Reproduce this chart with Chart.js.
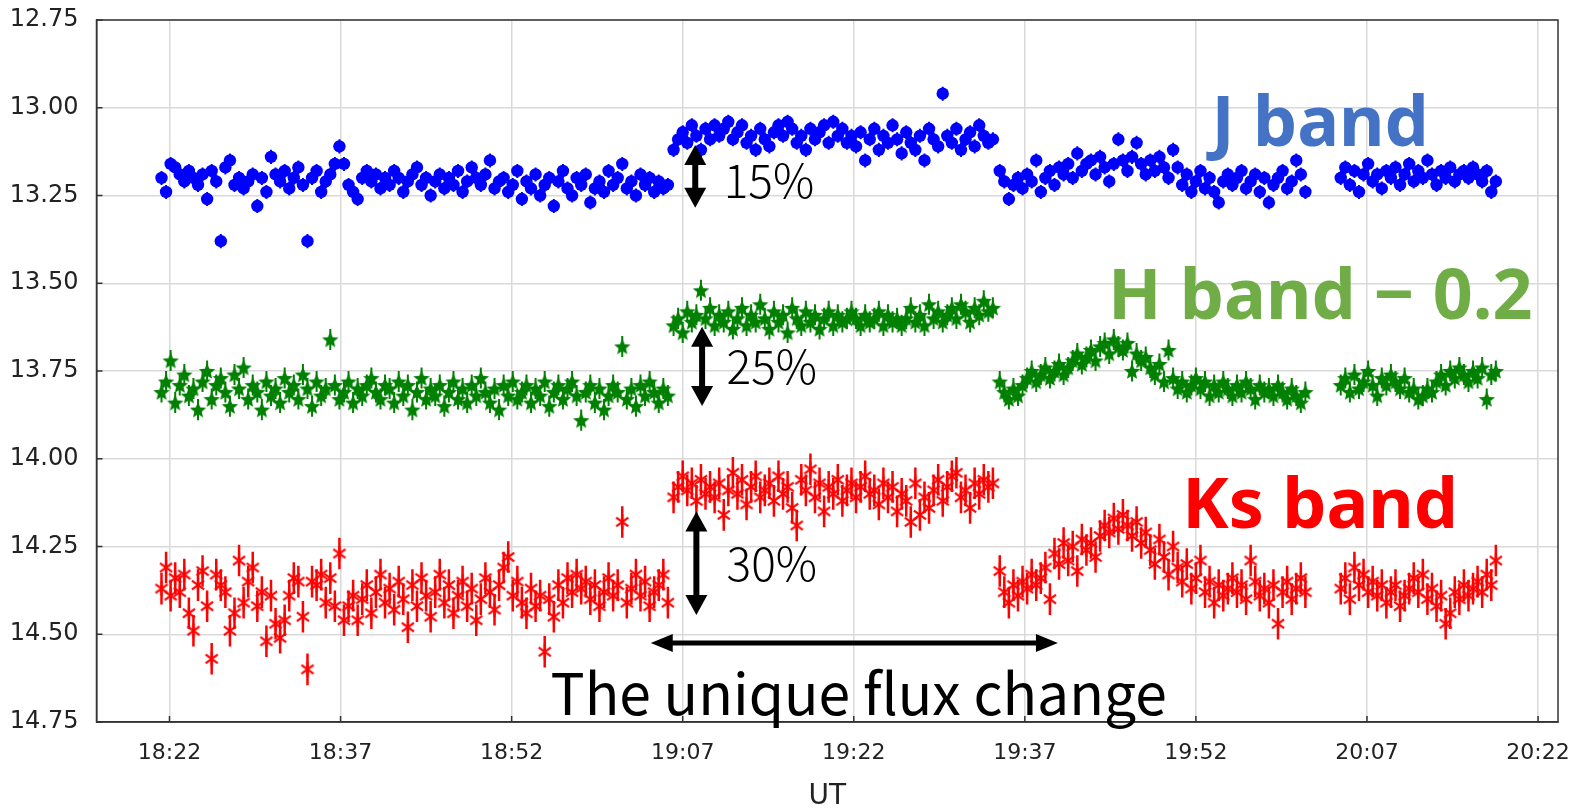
<!DOCTYPE html>
<html><head><meta charset="utf-8">
<script src="https://cdn.jsdelivr.net/npm/chart.js@4.4.1/dist/chart.umd.min.js"></script>
<style>html,body{margin:0;padding:0;background:#fff;}#wrap{width:1582px;height:808px;}</style>
</head><body><div id="wrap"><canvas id="c" width="1582" height="808"></canvas></div>
<script>
// UT in minutes after 18:00, four observing blocks
const ut1 = [21.3,21.7,22.1,22.5,22.9,23.3,23.7,24.1,24.5,24.9,25.3,25.7,26.1,26.5,26.9,27.3,27.7,28.1,28.5,28.9,
29.3,29.7,30.1,30.5,30.9,31.3,31.7,32.1,32.5,32.9,33.3,33.7,34.1,34.5,34.9,35.3,35.7,36.1,36.5,36.9,
37.3,37.7,38.1,38.5,38.9,39.3,39.7,40.1,40.5,40.9,41.3,41.7,42.1,42.5,42.9,43.3,43.7,44.1,44.5,44.9,
45.3,45.7,46.1,46.5,46.9,47.3,47.7,48.1,48.5,48.9,49.3,49.7,50.1,50.5,50.9,51.3,51.7,52.1,52.5,52.9,
53.3,53.7,54.1,54.5,54.9,55.3,55.7,56.1,56.5,56.9,57.3,57.7,58.1,58.5,58.9,59.3,59.7,60.1,60.5,60.9,
61.3,61.7,62.1,62.5,62.9,63.3,63.7,64.1,64.5,64.9,65.3,65.7];
const ut2 = [66.2,66.6,67.0,67.4,67.8,68.2,68.6,69.0,69.4,69.8,70.2,70.6,71.0,71.4,71.8,72.2,72.6,73.0,73.4,73.8,
74.2,74.6,75.0,75.4,75.8,76.2,76.6,77.0,77.4,77.8,78.2,78.6,79.0,79.4,79.8,80.2,80.6,81.0,81.4,81.8,
82.2,82.6,83.0,83.4,83.8,84.2,84.6,85.0,85.4,85.8,86.2,86.6,87.0,87.4,87.8,88.2,88.6,89.0,89.4,89.8,
90.2,90.6,91.0,91.4,91.8,92.2,92.6,93.0,93.4,93.8,94.2];
const ut3 = [94.8,95.2,95.6,96.0,96.4,96.8,97.2,97.6,98.0,98.4,98.8,99.2,99.6,100.0,100.4,100.8,101.2,101.6,102.0,102.4,
102.8,103.2,103.6,104.0,104.4,104.8,105.2,105.6,106.0,106.4,106.8,107.2,107.6,108.0,108.4,108.8,109.2,109.6,110.0,110.4,
110.8,111.2,111.6,112.0,112.4,112.8,113.2,113.6,114.0,114.4,114.8,115.2,115.6,116.0,116.4,116.8,117.2,117.6,118.0,118.4,
118.8,119.2,119.6,120.0,120.4,120.8,121.2,121.6];
const ut4 = [124.7,125.1,125.5,125.9,126.3,126.7,127.1,127.5,127.9,128.3,128.7,129.1,129.5,129.9,130.3,130.7,131.1,131.5,131.9,132.3,
132.7,133.1,133.5,133.9,134.3,134.7,135.1,135.5,135.9,136.3,136.7,137.1,137.5,137.9,138.3];

const jBand = [
13.20,13.24,13.16,13.17,13.19,13.21,13.18,13.20,13.22,13.19,13.26,13.18,13.21,13.38,13.17,13.15,13.22,13.20,13.23,13.21,
13.19,13.28,13.20,13.24,13.14,13.19,13.21,13.18,13.23,13.20,13.17,13.22,13.38,13.20,13.18,13.24,13.21,13.19,13.16,13.11,
13.16,13.22,13.24,13.26,13.20,13.18,13.21,13.19,13.23,13.20,13.22,13.18,13.20,13.24,13.21,13.19,13.17,13.22,13.20,13.25,
13.21,13.19,13.23,13.20,13.22,13.18,13.24,13.21,13.17,13.20,13.22,13.19,13.15,13.23,13.21,13.20,13.24,13.22,13.18,13.26,
13.21,13.23,13.19,13.25,13.22,13.20,13.28,13.21,13.18,13.23,13.25,13.20,13.22,13.19,13.27,13.23,13.21,13.24,13.18,13.22,
13.20,13.16,13.23,13.21,13.25,13.19,13.22,13.20,13.24,13.21,13.23,13.22,
13.12,13.09,13.07,13.10,13.05,13.08,13.12,13.06,13.09,13.05,13.08,13.06,13.04,13.09,13.07,13.05,13.10,13.08,13.12,13.06,
13.09,13.11,13.07,13.05,13.08,13.04,13.06,13.10,13.08,13.12,13.06,13.09,13.07,13.05,13.10,13.04,13.08,13.06,13.10,13.08,
13.11,13.07,13.15,13.09,13.06,13.12,13.08,13.10,13.05,13.09,13.13,13.07,13.10,13.12,13.08,13.15,13.06,13.09,13.11,12.96,
13.08,13.10,13.06,13.12,13.09,13.07,13.11,13.05,13.08,13.10,13.09,
13.18,13.21,13.26,13.22,13.20,13.23,13.19,13.21,13.15,13.24,13.20,13.18,13.22,13.17,13.19,13.16,13.20,13.13,13.18,13.16,
13.15,13.19,13.14,13.17,13.21,13.16,13.09,13.15,13.18,13.14,13.10,13.16,13.19,13.15,13.18,13.14,13.17,13.20,13.12,13.17,
13.22,13.19,13.24,13.21,13.18,13.23,13.20,13.24,13.27,13.21,13.19,13.22,13.20,13.18,13.23,13.21,13.19,13.24,13.20,13.27,
13.22,13.20,13.18,13.23,13.21,13.15,13.19,13.24,
13.20,13.17,13.22,13.18,13.24,13.19,13.16,13.21,13.19,13.23,13.18,13.20,13.17,13.22,13.19,13.16,13.21,13.18,13.20,13.15,
13.19,13.22,13.18,13.20,13.17,13.21,13.19,13.18,13.20,13.17,13.19,13.21,13.18,13.24,13.21];

const hBandMinus02 = [
13.81,13.78,13.72,13.84,13.79,13.76,13.82,13.80,13.86,13.78,13.75,13.83,13.79,13.77,13.81,13.85,13.76,13.80,13.74,13.83,
13.79,13.81,13.86,13.78,13.82,13.80,13.84,13.77,13.81,13.79,13.83,13.76,13.80,13.85,13.78,13.82,13.80,13.66,13.79,13.83,
13.81,13.78,13.84,13.80,13.82,13.79,13.77,13.81,13.83,13.79,13.80,13.84,13.78,13.82,13.79,13.86,13.81,13.77,13.83,13.80,
13.82,13.79,13.85,13.81,13.78,13.83,13.80,13.84,13.79,13.82,13.77,13.81,13.84,13.80,13.86,13.79,13.82,13.78,13.83,13.81,
13.79,13.84,13.80,13.82,13.78,13.85,13.81,13.79,13.83,13.80,13.78,13.82,13.89,13.81,13.79,13.84,13.80,13.86,13.82,13.79,
13.81,13.68,13.83,13.80,13.85,13.79,13.82,13.78,13.81,13.84,13.80,13.82,
13.62,13.60,13.64,13.58,13.61,13.59,13.52,13.60,13.57,13.62,13.59,13.61,13.58,13.63,13.60,13.57,13.62,13.59,13.61,13.56,
13.60,13.63,13.58,13.61,13.59,13.64,13.57,13.60,13.62,13.58,13.61,13.59,13.63,13.60,13.58,13.62,13.59,13.61,13.60,13.58,
13.60,13.62,13.59,13.61,13.60,13.58,13.62,13.59,13.61,13.60,13.62,13.60,13.57,13.61,13.59,13.62,13.56,13.60,13.58,13.61,
13.59,13.57,13.60,13.56,13.58,13.61,13.57,13.59,13.55,13.58,13.57,
13.78,13.81,13.83,13.80,13.82,13.79,13.77,13.75,13.78,13.76,13.74,13.77,13.75,13.73,13.76,13.74,13.72,13.70,13.73,13.71,
13.69,13.72,13.68,13.67,13.70,13.66,13.68,13.69,13.67,13.75,13.70,13.72,13.71,13.74,13.76,13.73,13.78,13.69,13.77,13.80,
13.78,13.81,13.79,13.77,13.80,13.78,13.82,13.79,13.81,13.78,13.80,13.82,13.79,13.81,13.78,13.80,13.83,13.79,13.81,13.80,
13.82,13.79,13.81,13.83,13.80,13.82,13.84,13.81,
13.79,13.77,13.81,13.76,13.80,13.78,13.75,13.79,13.82,13.77,13.79,13.76,13.78,13.80,13.77,13.81,13.80,13.83,13.82,13.80,
13.81,13.78,13.76,13.79,13.75,13.77,13.74,13.76,13.78,13.75,13.77,13.74,13.83,13.76,13.75];

const ksBand = [
14.37,14.31,14.39,14.34,14.38,14.33,14.44,14.49,14.36,14.32,14.42,14.57,14.33,14.36,14.38,14.49,14.44,14.29,14.41,14.35,
14.31,14.42,14.38,14.52,14.39,14.47,14.51,14.46,14.39,14.34,14.35,14.45,14.60,14.35,14.36,14.33,14.41,14.34,14.42,14.27,
14.46,14.42,14.39,14.46,14.40,14.36,14.44,14.38,14.33,14.41,14.37,14.43,14.35,14.40,14.48,14.36,14.42,14.34,14.39,14.45,
14.38,14.33,14.41,14.36,14.44,14.39,14.35,14.42,14.37,14.46,14.40,14.34,14.38,14.43,14.36,14.31,14.28,14.39,14.35,14.41,
14.44,14.37,14.42,14.39,14.55,14.40,14.45,14.36,14.41,14.34,14.38,14.33,14.37,14.35,14.40,14.36,14.42,14.38,14.34,14.39,
14.36,14.18,14.41,14.37,14.33,14.39,14.35,14.42,14.38,14.36,14.33,14.41,
14.11,14.08,14.05,14.09,14.07,14.12,14.06,14.10,14.08,14.11,14.07,14.16,14.09,14.04,14.10,14.06,14.13,14.08,14.05,14.11,
14.09,14.07,14.12,14.05,14.10,14.08,14.14,14.19,14.06,14.09,14.03,14.11,14.07,14.15,14.08,14.10,14.06,14.12,14.09,14.07,
14.11,14.08,14.05,14.10,14.09,14.13,14.07,14.11,14.08,14.15,14.10,14.12,14.18,14.07,14.16,14.11,14.14,14.09,14.06,14.12,
14.08,14.05,14.04,14.11,14.09,14.14,14.07,14.10,14.06,14.08,14.07,
14.32,14.38,14.41,14.36,14.39,14.35,14.37,14.33,14.36,14.34,14.31,14.40,14.27,14.30,14.24,14.29,14.25,14.32,14.23,14.26,
14.24,14.28,14.22,14.19,14.21,14.17,14.20,14.16,14.19,14.22,14.18,14.24,14.21,14.26,14.30,14.23,14.28,14.33,14.25,14.31,
14.35,14.30,14.37,14.34,14.29,14.38,14.35,14.41,14.36,14.39,14.37,14.34,14.38,14.36,14.40,14.29,14.35,14.39,14.37,14.41,
14.36,14.47,14.38,14.35,14.40,14.37,14.34,14.38,
14.37,14.34,14.40,14.31,14.36,14.33,14.38,14.35,14.39,14.36,14.41,14.38,14.36,14.42,14.39,14.37,14.34,14.38,14.33,14.40,
14.37,14.42,14.39,14.47,14.44,14.38,14.40,14.36,14.39,14.37,14.35,14.38,14.33,14.36,14.29];

// typical photometric errors (mag)
const errJ = 0.02, errH = 0.03, errKs = 0.045;

const xTickValues = [22,37,52,67,82,97,112,127,142];
const xTickLabels = ['18:22','18:37','18:52','19:07','19:22','19:37','19:52','20:07','20:22'];
const yTickValues = [12.75,13.00,13.25,13.50,13.75,14.00,14.25,14.50,14.75];

const ut = ut1.concat(ut2, ut3, ut4);
const toPts = arr => arr.map((v,i)=>({x: ut[i], y: v}));

function makeStar(color){
  const c=document.createElement('canvas'); c.width=c.height=20;
  const g=c.getContext('2d'); g.fillStyle=color; g.beginPath();
  for(let k=0;k<10;k++){const r=k%2?3.9:8.6; const a=-Math.PI/2+k*Math.PI/5; g.lineTo(10+r*Math.cos(a),10.8+r*Math.sin(a));}
  g.closePath(); g.fill(); return c;
}
function makeAsterisk(color){
  const c=document.createElement('canvas'); c.width=c.height=18;
  const g=c.getContext('2d'); g.strokeStyle=color; g.lineWidth=2.2; g.lineCap='butt'; g.beginPath();
  g.moveTo(9,1.5); g.lineTo(9,16.5);
  const a=Math.PI/5, r=7.5;
  g.moveTo(9-r*Math.cos(a),9-r*Math.sin(a)); g.lineTo(9+r*Math.cos(a),9+r*Math.sin(a));
  g.moveTo(9-r*Math.cos(a),9+r*Math.sin(a)); g.lineTo(9+r*Math.cos(a),9-r*Math.sin(a));
  g.stroke(); return c;
}

const errorBars = {
  id:'errorBars',
  beforeDatasetsDraw(chart){
    const {ctx, scales:{x,y}} = chart;
    chart.data.datasets.forEach(ds=>{
      ctx.save(); ctx.strokeStyle=ds.errColor; ctx.lineWidth=ds.errWidth; ctx.beginPath();
      ds.data.forEach(p=>{
        const px=x.getPixelForValue(p.x);
        ctx.moveTo(px,y.getPixelForValue(p.y-ds.err)); ctx.lineTo(px,y.getPixelForValue(p.y+ds.err));
      });
      ctx.stroke(); ctx.restore();
    });
  }
};

function vArrow(ctx,x,y1,y2){
  const hl=20, hw=11, lw=6;
  ctx.beginPath(); ctx.lineWidth=lw; ctx.moveTo(x,y1+hl-2); ctx.lineTo(x,y2-hl+2); ctx.stroke();
  ctx.beginPath(); ctx.moveTo(x,y1); ctx.lineTo(x-hw,y1+hl); ctx.lineTo(x+hw,y1+hl); ctx.closePath(); ctx.fill();
  ctx.beginPath(); ctx.moveTo(x,y2); ctx.lineTo(x-hw,y2-hl); ctx.lineTo(x+hw,y2-hl); ctx.closePath(); ctx.fill();
}
function hArrow(ctx,y,x1,x2){
  const hl=22, hw=9, lw=5;
  ctx.beginPath(); ctx.lineWidth=lw; ctx.moveTo(x1+hl-2,y); ctx.lineTo(x2-hl+2,y); ctx.stroke();
  ctx.beginPath(); ctx.moveTo(x1,y); ctx.lineTo(x1+hl,y-hw); ctx.lineTo(x1+hl,y+hw); ctx.closePath(); ctx.fill();
  ctx.beginPath(); ctx.moveTo(x2,y); ctx.lineTo(x2-hl,y-hw); ctx.lineTo(x2-hl,y+hw); ctx.closePath(); ctx.fill();
}

const annotations = {
  id:'annotations',
  afterDraw(chart){
    const {ctx, scales:{x,y}, chartArea:a} = chart;
    ctx.save();
    // frame and inward ticks
    ctx.strokeStyle='#333'; ctx.lineWidth=1.5;
    ctx.strokeRect(a.left,a.top,a.right-a.left,a.bottom-a.top);
    ctx.beginPath();
    yTickValues.forEach(v=>{const py=y.getPixelForValue(v); ctx.moveTo(a.left,py); ctx.lineTo(a.left+6,py);});
    xTickValues.forEach(v=>{const px=x.getPixelForValue(v); ctx.moveTo(px,a.bottom); ctx.lineTo(px,a.bottom-6);});
    ctx.stroke();
    // band labels
    ctx.textAlign='center'; ctx.textBaseline='alphabetic';
    ctx.font='bold 70px "Noto Sans"';
    const cx=x.getPixelForValue(122.9);
    ctx.fillStyle='#4472C4'; ctx.fillText('J band',cx,y.getPixelForValue(13.11));
    ctx.fillStyle='#70AD47'; ctx.fillText('H band \u2212 0.2',cx,y.getPixelForValue(13.602));
    ctx.fillStyle='#FF0000'; ctx.fillText('Ks band',cx,y.getPixelForValue(14.197));
    // amplitude arrows and texts
    ctx.fillStyle='#000'; ctx.strokeStyle='#000';
    vArrow(ctx,x.getPixelForValue(68.1),y.getPixelForValue(13.106),y.getPixelForValue(13.285));
    vArrow(ctx,x.getPixelForValue(68.7),y.getPixelForValue(13.624),y.getPixelForValue(13.85));
    vArrow(ctx,x.getPixelForValue(68.2),y.getPixelForValue(14.15),y.getPixelForValue(14.445));
    hArrow(ctx,y.getPixelForValue(14.525),x.getPixelForValue(64.2),x.getPixelForValue(99.9));
    ctx.textAlign='left';
    ctx.font='300 46px "Noto Sans CJK JP"';
    ctx.fillText('15%',x.getPixelForValue(70.6),y.getPixelForValue(13.256));
    ctx.fillText('25%',x.getPixelForValue(70.85),y.getPixelForValue(13.788));
    ctx.fillText('30%',x.getPixelForValue(70.85),y.getPixelForValue(14.349));
    ctx.textAlign='center';
    ctx.font='400 57px "Noto Sans CJK JP"';
    ctx.fillText('The unique flux change',x.getPixelForValue(82.43),y.getPixelForValue(14.729));
    ctx.restore();
  }
};

Chart.defaults.font.family='"DejaVu Sans"';
new Chart(document.getElementById('c'),{
  type:'scatter',
  data:{datasets:[
    {label:'J', data:toPts(jBand), pointStyle:'circle', pointRadius:6.2, pointBorderWidth:0,
     backgroundColor:'#0000FF', borderColor:'#0000FF', err:errJ, errColor:'#0000FF', errWidth:2},
    {label:'H-0.2', data:toPts(hBandMinus02), pointStyle:makeStar('#008000'),
     backgroundColor:'#008000', borderColor:'#008000', err:errH, errColor:'#008000', errWidth:2},
    {label:'Ks', data:toPts(ksBand), pointStyle:makeAsterisk('#FF0000'),
     backgroundColor:'#FF0000', borderColor:'#FF0000', err:errKs, errColor:'#FF0000', errWidth:2.5}
  ]},
  options:{
    responsive:false, animation:false, events:[],
    layout:{padding:{left:0,right:24,top:20,bottom:0}},
    plugins:{legend:{display:false}, tooltip:{enabled:false}},
    scales:{
      x:{type:'linear', min:15.6, max:143.75,
        afterBuildTicks:s=>{s.ticks=xTickValues.map(v=>({value:v}));},
        afterFit:s=>{s.height=86; s.paddingLeft=0; s.paddingRight=0;},
        ticks:{callback:(v)=>xTickLabels[xTickValues.indexOf(v)], color:'#222', font:{size:22}, padding:18, maxRotation:0, autoSkip:false},
        grid:{color:'#d9d9d9', lineWidth:1.5, drawTicks:false},
        border:{color:'#333', width:1.5},
        title:{display:true, text:'UT', color:'#222', font:{size:28, lineHeight:0.8}, padding:{top:0,bottom:0}}
      },
      y:{type:'linear', reverse:true, min:12.75, max:14.75,
        afterBuildTicks:s=>{s.ticks=yTickValues.map(v=>({value:v}));},
        afterFit:s=>{s.width=96.5; s.paddingTop=0; s.paddingBottom=0;},
        ticks:{callback:v=>v.toFixed(2), color:'#222', font:{size:24}, padding:18},
        grid:{color:'#d9d9d9', lineWidth:1.5, drawTicks:false},
        border:{color:'#333', width:1.5}
      }
    }
  },
  plugins:[errorBars, annotations]
});
</script></body></html>
